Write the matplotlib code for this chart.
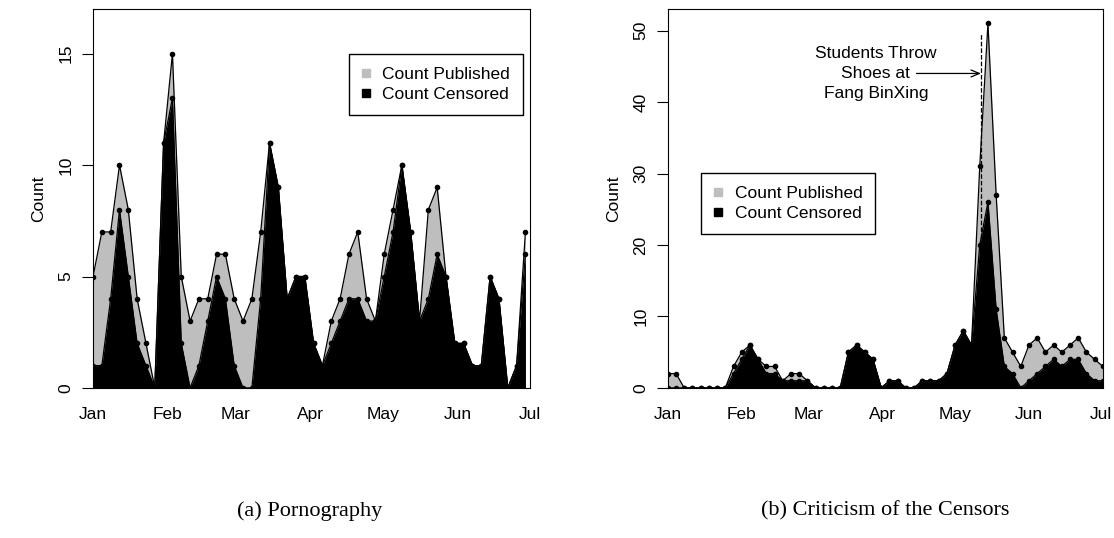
import numpy as np
import pandas as pd
import matplotlib
matplotlib.use("Agg")
import matplotlib.pyplot as plt
from matplotlib.lines import Line2D

# values
porn_published = [5, 7, 7, 10, 8, 4, 2, 0, 11, 15, 5, 3, 4, 4, 6, 6, 4, 3, 4, 7,
                  11, 9, 4, 5, 5, 2, 1, 3, 4, 6, 7, 4, 3, 6, 8, 10, 7, 3, 8, 9,
                  5, 2, 2, 1, 1, 5, 4, 0, 1, 7]
porn_censored = [1, 1, 4, 8, 5, 2, 1, 0, 11, 13, 2, 0, 1, 3, 5, 4, 1, 0, 0, 4,
                 11, 9, 4, 5, 5, 2, 1, 2, 3, 4, 4, 3, 3, 5, 7, 10, 7, 3, 4, 6,
                 5, 2, 2, 1, 1, 5, 4, 0, 1, 6]

crit_published = [2, 2, 0, 0, 0, 0, 0, 0, 3, 5, 6, 4, 3, 3, 1, 2, 2, 1, 0, 0,
                  0, 0, 5, 6, 5, 4, 0, 1, 1, 0, 0, 1, 1, 1, 2, 6, 8, 6, 31, 51,
                  27, 7, 5, 3, 6, 7, 5, 6, 5, 6, 7, 5, 4, 3]
crit_censored = [0, 0, 0, 0, 0, 0, 0, 0, 2, 4, 6, 4, 2, 2, 1, 1, 1, 1, 0, 0,
                 0, 0, 5, 6, 5, 4, 0, 1, 1, 0, 0, 1, 1, 1, 2, 6, 8, 6, 20, 26,
                 11, 3, 2, 0, 1, 2, 3, 4, 3, 4, 4, 2, 1, 1]

porn_dates = pd.date_range("2011-01-01", "2011-06-29", periods=len(porn_published))
crit_dates = pd.date_range("2011-01-01", "2011-07-02", periods=len(crit_published))

month_ticks = pd.date_range("2011-01-01", "2011-07-01", freq="MS")
month_labels = ["Jan", "Feb", "Mar", "Apr", "May", "Jun", "Jul"]

event_date = pd.Timestamp("2011-05-12")
event_text = "Students Throw\nShoes at\nFang BinXing"

GREY = "#BEBEBE"
plt.rcParams["font.family"] = ["Liberation Sans", "DejaVu Sans"]
FS = 12.5

fig = plt.figure(figsize=(11.14, 5.38), dpi=100)
ax1 = fig.add_axes([0.0835, 0.279, 0.3925, 0.704])
ax2 = fig.add_axes([0.5995, 0.279, 0.3905, 0.704])


def draw(ax, dates, pub, cens, ymax, yticks):
    ax.fill_between(dates, 0, pub, color=GREY, lw=0)
    ax.plot(dates, pub, color="black", lw=0.9, marker="o", ms=3.0)
    ax.fill_between(dates, 0, cens, color="black", lw=0)
    ax.plot(dates, cens, color="black", lw=0.9, marker="o", ms=3.0)
    ax.set_xlim(month_ticks[0], max(month_ticks[-1], dates[-1]))
    ax.set_ylim(0, ymax)
    ax.set_xticks(month_ticks)
    ax.set_xticklabels(month_labels, fontsize=FS)
    ax.tick_params(axis="x", length=0, pad=14)
    ax.set_yticks(yticks)
    ax.set_yticklabels([str(t) for t in yticks], fontsize=FS, rotation=90, va="center")
    ax.tick_params(axis="y", length=8, width=0.8, pad=6)
    ax.set_ylabel("Count", fontsize=FS, labelpad=9)
    for s in ax.spines.values():
        s.set_linewidth(0.8)
    handles = [Line2D([], [], marker="s", color=GREY, ls="None", ms=5.8),
               Line2D([], [], marker="s", color="black", ls="None", ms=5.8)]
    return handles


leg_opts = dict(fontsize=FS, frameon=True, fancybox=False, edgecolor="black",
                framealpha=1, borderpad=0.75, handlelength=0.5,
                handletextpad=0.69, labelspacing=0.3, borderaxespad=0)

h = draw(ax1, porn_dates, porn_published, porn_censored, 17, [0, 5, 10, 15])
ax1.legend(h, ["Count Published", "Count Censored"], loc="upper right",
           bbox_to_anchor=(0.984, 0.882), **leg_opts)

h = draw(ax2, crit_dates, crit_published, crit_censored, 53, [0, 10, 20, 30, 40, 50])
ax2.legend(h, ["Count Published", "Count Censored"], loc="upper left",
           bbox_to_anchor=(0.076, 0.568), **leg_opts)

# annotation for the peak
ax2.plot([event_date, event_date], [21, 49.5], color="black", ls="--", lw=0.9)
ax2.text(pd.Timestamp("2011-03-29"), 44, event_text, ha="center", va="center",
         fontsize=FS, linespacing=1.4)
ax2.annotate("", xy=(event_date, 44), xytext=(pd.Timestamp("2011-04-15"), 44),
             arrowprops=dict(arrowstyle="->,head_length=0.6,head_width=0.25",
                             lw=0.9, color="black", shrinkA=0, shrinkB=0))

fig.text(0.278, 0.05, "(a) Pornography", ha="center", va="center",
         fontsize=16, family="Liberation Serif")
fig.text(0.795, 0.05, "(b) Criticism of the Censors", ha="center", va="center",
         fontsize=16, family="Liberation Serif")

fig.savefig("out.png", dpi=100)
